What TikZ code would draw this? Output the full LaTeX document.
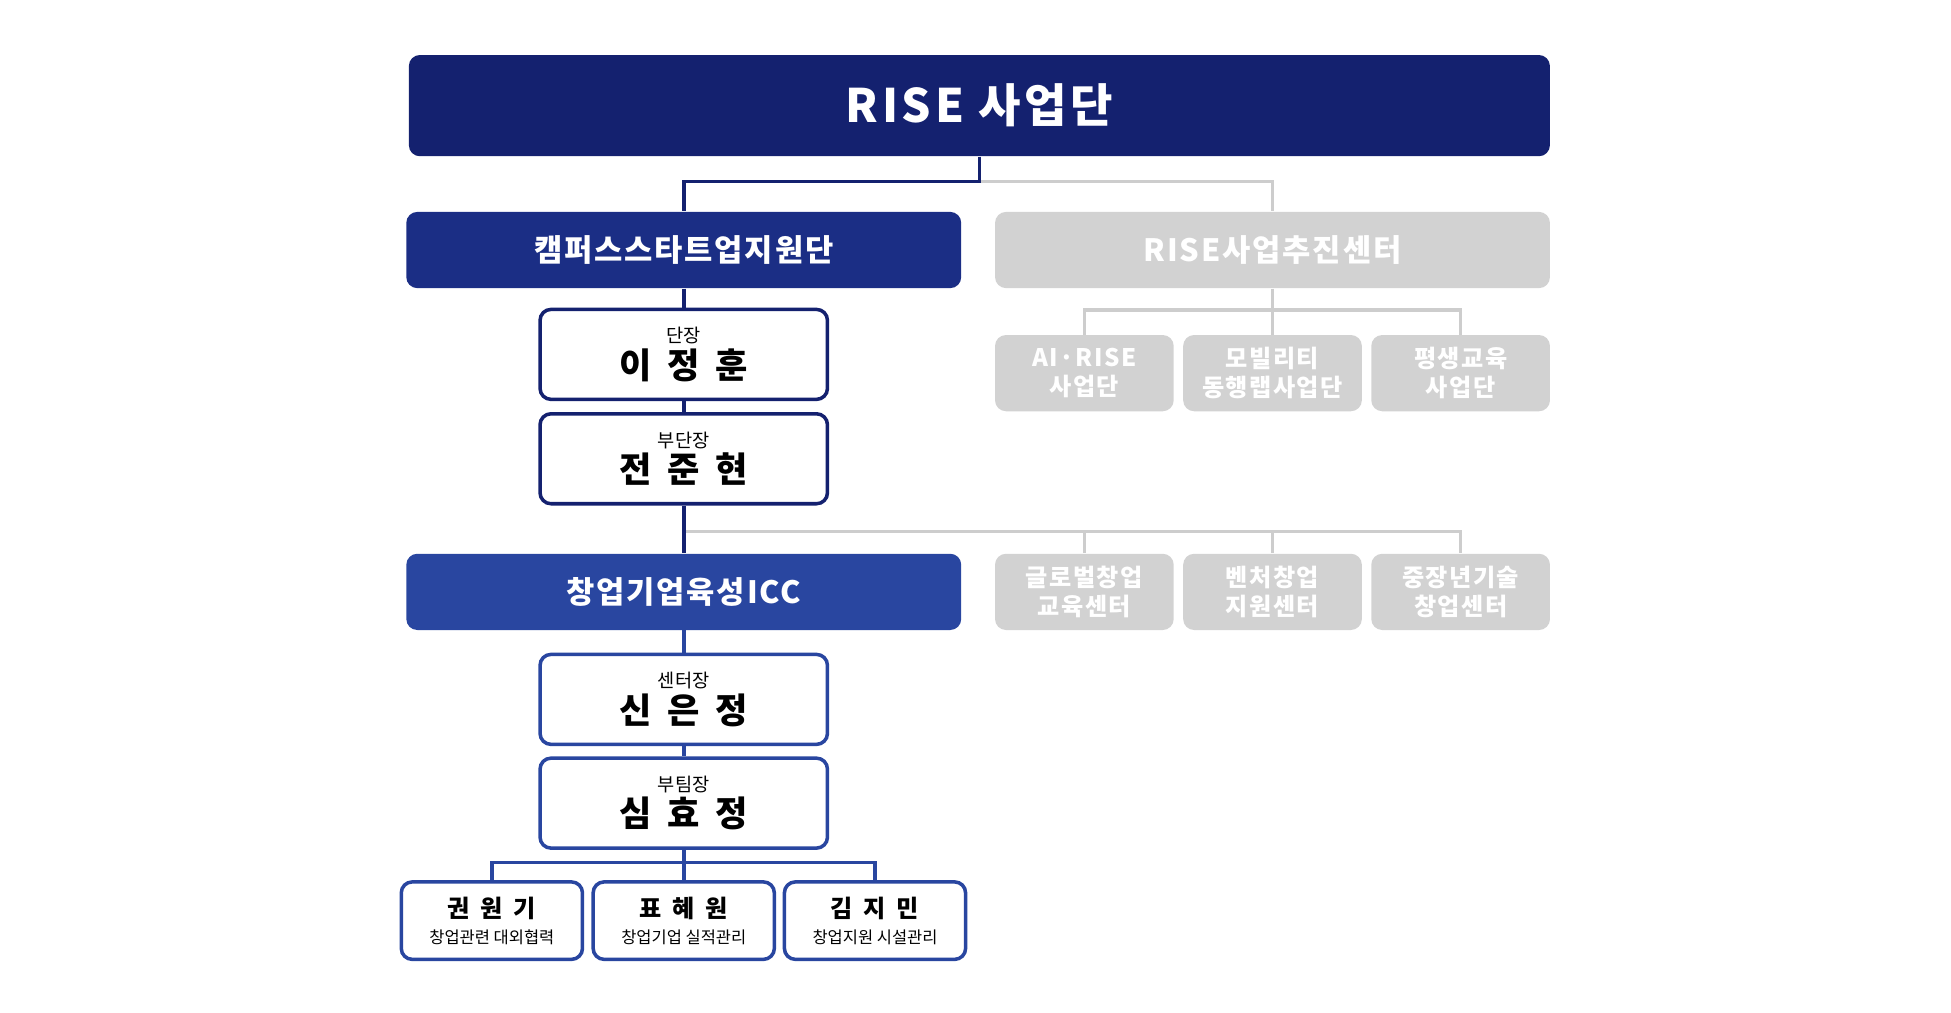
\documentclass[tikz,border=0pt]{standalone}
\usepackage{fontspec}
\setmainfont{Noto Sans CJK KR}
\usetikzlibrary{positioning}
\definecolor{navy}{HTML}{14216F}
\definecolor{campblue}{HTML}{1B2E85}
\definecolor{iccblue}{HTML}{2946A0}
\definecolor{boxgray}{HTML}{D2D2D2}
\definecolor{linegray}{HTML}{CDCDCD}
\newcommand{\namegap}{\hspace{0.45em}}

\begin{document}
\begin{tikzpicture}[x=0.02cm, y=-0.02cm,
    head/.style={rounded corners=5pt, fill=#1, text=white},
    gray box/.style={head=boxgray, minimum width=2.86cm, minimum height=1.22cm,
        align=center, font=\bfseries\fontsize{11}{13}\selectfont\addfontfeature{LetterSpace=6}},
    person/.style={draw=#1, line width=1.6pt, rounded corners=5pt, fill=white,
        minimum width=4.6cm, minimum height=1.44cm, align=center},
    staff/.style={draw=iccblue, line width=1.6pt, rounded corners=5pt, fill=white,
        minimum width=2.9cm, minimum height=1.24cm, align=center},
    title/.style={font=\bfseries\fontsize{14}{16}\selectfont\addfontfeature{LetterSpace=6}},
    navy line/.style={draw=navy, line width=1.6pt},
    blue line/.style={draw=iccblue, line width=1.6pt},
    gray line/.style={draw=linegray, line width=1.6pt}
]
\useasboundingbox (0,0) rectangle (1560.8,809.6);

% Top
\node[head=navy, minimum width=18.26cm, minimum height=1.62cm,
    font=\bfseries\fontsize{21}{24}\selectfont\addfontfeature{LetterSpace=8}] (rise) at (783.5,84.5) {RISE 사업단};

% Second level
\node[head=campblue, minimum width=8.88cm, minimum height=1.22cm, title] (camp) at (547,200) {캠퍼스스타트업지원단};
\node[head=boxgray, minimum width=8.88cm, minimum height=1.22cm, title] (push) at (1018,200) {RISE사업추진센터};

% Gray groups
\node[gray box] (ai) at (867.5,298.5) {AI·RISE\\사업단};
\node[gray box] (mob) at (1018,298.5) {모빌리티\\동행랩사업단};
\node[gray box] (life) at (1168.5,298.5) {평생교육\\사업단};
\node[gray box] (glob) at (867.5,473.5) {글로벌창업\\교육센터};
\node[gray box] (vent) at (1018,473.5) {벤처창업\\지원센터};
\node[gray box] (mid) at (1168.5,473.5) {중장년기술\\창업센터};

% People
\node[person=navy] (lee) at (547,283.5) {\fontsize{8.5}{10}\selectfont 단장\\[1pt]
    \bfseries\fontsize{16}{18}\selectfont 이\namegap 정\namegap 훈};
\node[person=navy] (jeon) at (547,367) {\fontsize{8.5}{10}\selectfont 부단장\\[1pt]
    \bfseries\fontsize{16}{18}\selectfont 전\namegap 준\namegap 현};

\node[head=iccblue, minimum width=8.88cm, minimum height=1.22cm, title] (icc) at (547,473.5) {창업기업육성ICC};

\node[person=iccblue] (shin) at (547,559.5) {\fontsize{8.5}{10}\selectfont 센터장\\[1pt]
    \bfseries\fontsize{16}{18}\selectfont 신\namegap 은\namegap 정};
\node[person=iccblue] (sim) at (547,642.5) {\fontsize{8.5}{10}\selectfont 부팀장\\[1pt]
    \bfseries\fontsize{16}{18}\selectfont 심\namegap 효\namegap 정};

\node[staff] (kwon) at (393.5,736.5) {\bfseries\fontsize{11}{13}\selectfont 권\namegap 원\namegap 기\\
    \mdseries\fontsize{7.5}{9}\selectfont 창업관련 대외협력};
\node[staff] (pyo) at (547,736.5) {\bfseries\fontsize{11}{13}\selectfont 표\namegap 혜\namegap 원\\
    \mdseries\fontsize{7.5}{9}\selectfont 창업기업 실적관리};
\node[staff] (kim) at (700,736.5) {\bfseries\fontsize{11}{13}\selectfont 김\namegap 지\namegap 민\\
    \mdseries\fontsize{7.5}{9}\selectfont 창업지원 시설관리};

% Junctions
\coordinate (j1) at (783.5,145);
\coordinate (j2) at (1018,248);
\coordinate (j3) at (547,425);
\coordinate (j4) at (547,690);

% Gray connectors
\draw[gray line] (j1) -| (push.north);
\draw[gray line] (push.south) -- (j2);
\draw[gray line] (j2) -| (ai.north);
\draw[gray line] (j2) -| (life.north);
\draw[gray line] (j2) -- (mob.north);
\draw[gray line] (j3) -| (glob.north);
\draw[gray line] (j3) -| (vent.north);
\draw[gray line] (j3) -| (mid.north);

% Blue connectors
\draw[navy line] (rise.south) -- (j1) -| (camp.north);
\draw[navy line] (camp.south) -- (lee.north);
\draw[navy line] (lee.south) -- (jeon.north);
\draw[navy line] (jeon.south) -- (icc.north);
\draw[blue line] (icc.south) -- (shin.north);
\draw[blue line] (shin.south) -- (sim.north);
\draw[blue line] (sim.south) -- (j4);
\draw[blue line] (j4) -| (kwon.north);
\draw[blue line] (j4) -| (kim.north);
\draw[blue line] (j4) -- (pyo.north);
\end{tikzpicture}
\end{document}
